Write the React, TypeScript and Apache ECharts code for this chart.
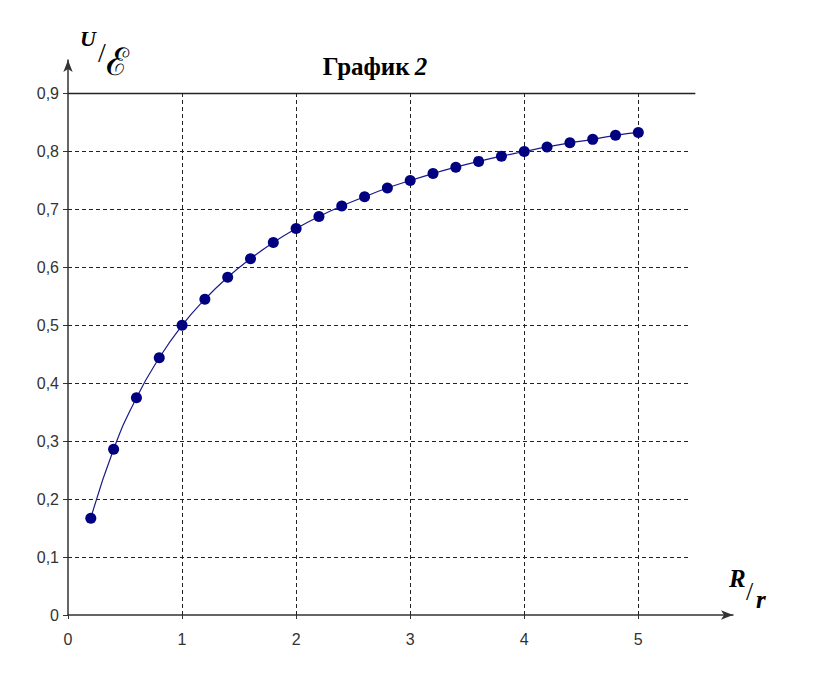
import React, { useEffect, useRef } from "react";
import * as echarts from "echarts";

const ratios = [0.2, 0.4, 0.6, 0.8, 1.0, 1.2, 1.4, 1.6, 1.8, 2.0, 2.2, 2.4, 2.6, 2.8, 3.0, 3.2, 3.4, 3.6, 3.8, 4.0, 4.2, 4.4, 4.6, 4.8, 5.0];
const voltageRatio = [0.167, 0.286, 0.375, 0.444, 0.5, 0.545, 0.583, 0.615, 0.643, 0.667, 0.688, 0.706, 0.722, 0.737, 0.75, 0.762, 0.773, 0.783, 0.792, 0.8, 0.808, 0.815, 0.821, 0.828, 0.833];
const xTicks = [0, 1, 2, 3, 4, 5];
const yTicks = [0, 0.1, 0.2, 0.3, 0.4, 0.5, 0.6, 0.7, 0.8, 0.9];
const xGridEnd = 5.45;
const yTop = 0.9;

export default function App() {
  const ref = useRef<HTMLDivElement>(null);
  useEffect(() => {
    const chart = echarts.init(ref.current!, null, { renderer: "svg" });
    const dash = [4, 3];
    const hLines = yTicks.slice(1).map((v) => [
      { coord: [0, v], lineStyle: v === yTop ? { type: "solid", color: "#222", width: 1.3 } : { type: dash, color: "#222", width: 1 } },
      { coord: [v === yTop ? 5.5 : xGridEnd, v] },
    ]);
    const vLines = xTicks.slice(1).map((v) => [{ coord: [v, 0] }, { coord: [v, yTop] }]);
    const labelFont = { fontFamily: "'Liberation Sans Narrow', 'Arial Narrow', 'Liberation Sans', sans-serif", fontSize: 16, color: "#333" };
    chart.setOption({
      animation: false,
      backgroundColor: "#fff",
      title: {
        text: "{a|График} {b|2}",
        left: 370,
        top: 49,
        textAlign: "center",
        textStyle: {
          rich: {
            a: { fontFamily: "'Liberation Serif', 'Times New Roman', serif", fontWeight: 900, fontSize: 25, color: "#000" },
            b: { fontFamily: "'Liberation Serif', 'Times New Roman', serif", fontWeight: 900, fontStyle: "italic", fontSize: 25, color: "#000" },
          },
        },
      },
      grid: { left: 68, right: 818 - 733, top: 60, bottom: 683 - 615, containLabel: false },
      xAxis: {
        type: "value",
        min: 0,
        max: 5.83,
        splitLine: { show: false },
        axisLine: { lineStyle: { color: "#333", width: 1.5 }, symbol: ["none", "arrow"], symbolSize: [7, 12], symbolOffset: [0, 0] },
        axisTick: { show: true, customValues: xTicks, length: 4, lineStyle: { color: "#333" } },
        axisLabel: { customValues: xTicks, margin: 16, ...labelFont },
      },
      yAxis: {
        type: "value",
        min: 0,
        max: 0.958,
        splitLine: { show: false },
        axisLine: { lineStyle: { color: "#333", width: 1.5 }, symbol: ["none", "arrow"], symbolSize: [7, 12] },
        axisTick: { show: true, customValues: yTicks, length: 5, lineStyle: { color: "#333" } },
        axisLabel: {
          customValues: yTicks,
          margin: 9,
          formatter: (v: number) => (v === 0 ? "0" : v.toFixed(1).replace(".", ",")),
          ...labelFont,
        },
      },
      series: [
        {
          type: "line",
          data: ratios.map((r, i) => [r, voltageRatio[i]]),
          smooth: true,
          symbol: "circle",
          symbolSize: 11,
          itemStyle: { color: "#000080" },
          lineStyle: { color: "#1a1a8c", width: 1.2 },
          z: 5,
          markLine: {
            silent: true,
            symbol: "none",
            label: { show: false },
            lineStyle: { type: dash, color: "#222", width: 1 },
            data: [...hLines, ...vLines],
            z: 1,
          },
        },
      ],
      graphic: [
        { type: "text", left: 80, top: 27, style: { text: "U", font: "italic 900 22px 'Liberation Serif', serif", fill: "#000" } },
        { type: "text", left: 98, top: 38, style: { text: "/", font: "28px 'Liberation Serif', serif", fill: "#000" } },
        { type: "text", left: 106, top: 43, style: { text: "ℰ", font: "38px 'DejaVu Serif', serif", fill: "#000" } },
        { type: "text", left: 729, top: 566, style: { text: "R", font: "italic 900 25px 'Liberation Serif', serif", fill: "#000" } },
        { type: "text", left: 746, top: 578, style: { text: "/", font: "26px 'Liberation Serif', serif", fill: "#000" } },
        { type: "text", left: 756, top: 587, style: { text: "r", font: "italic 900 25px 'Liberation Serif', serif", fill: "#000" } },
      ],
    });
    return () => chart.dispose();
  }, []);
  return <div ref={ref} style={{ position: "fixed", left: 0, top: 0, width: 818, height: 683, background: "#fff" }} />;
}
